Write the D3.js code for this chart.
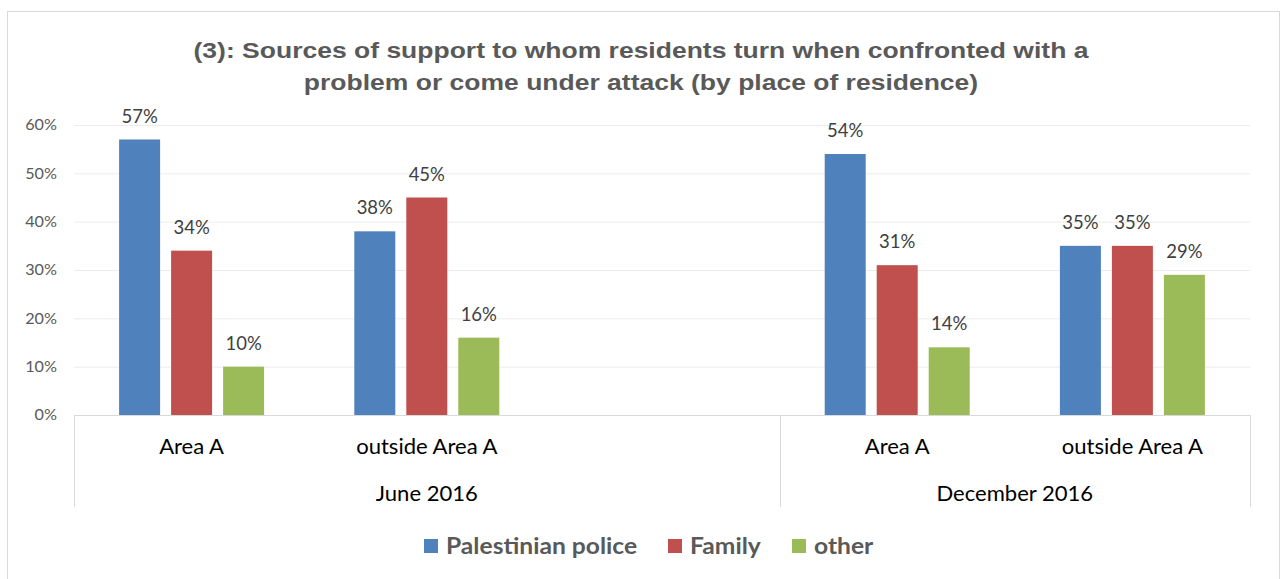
<!DOCTYPE html>
<html><head><meta charset="utf-8">
<script src="https://cdn.jsdelivr.net/npm/d3@7"></script>
<style>body{margin:0;background:#fff;} svg{display:block;}</style>
</head><body>
<svg id="c" width="1281" height="579"></svg>
<script>
const slots = ["J-A", "J-O", "J-gap", "D-A", "D-O"];
const slotLabels = ["Area A", "outside Area A", "", "Area A", "outside Area A"];
const periods = ["June 2016", "December 2016"];
const periodSlots = [["J-A", "J-O", "J-gap"], ["D-A", "D-O"]];
const seriesNames = ["Palestinian police", "Family", "other"];
const police = [57, 38, null, 54, 35];
const family = [34, 45, null, 31, 35];
const other  = [10, 16, null, 14, 29];
const yTicks = [0, 10, 20, 30, 40, 50, 60];
const titleLines = ["(3): Sources of support to whom residents turn when confronted with a", "problem or come under attack (by place of residence)"];
const colors = ["#4F81BD", "#C0504D", "#9BBB59"];
const seriesData = [police, family, other];

const svg = d3.select("#c");
svg.append("rect").attr("x", 7.5).attr("y", 11.5).attr("width", 1272).attr("height", 580)
  .attr("fill", "#fff").attr("stroke", "#d9d9d9");

const x0 = 74, x1 = 1250, yTop = 125, yBase = 415;
const x = d3.scaleBand().domain(slots).range([x0, x1]).paddingInner(0).paddingOuter(0);
const y = d3.scaleLinear().domain([0, 60]).range([yBase, yTop]);
const groupW = 145;
const inner = d3.scaleBand().domain(d3.range(3)).range([0, groupW]).paddingInner(0.2115).paddingOuter(0);

// helper for horizontally scaled text
function sText(g, cx, cy, sx) {
  return g.append("text").attr("transform", `translate(${cx},${cy}) scale(${sx},1)`);
}

// title
const tg = svg.append("g");
titleLines.forEach((t, i) => {
  sText(tg, 641, 58 + i * 32, 1.205).attr("text-anchor", "middle")
    .attr("font-family", "Liberation Sans, Arial, sans-serif").attr("font-weight", "bold")
    .attr("font-size", 22).attr("fill", "#595959").text(t);
});

// gridlines
svg.append("g").selectAll("line").data(yTicks.filter(t => t > 0)).join("line")
  .attr("x1", x0).attr("x2", x1).attr("y1", d => y(d) + 0.5).attr("y2", d => y(d) + 0.5)
  .attr("stroke", "#ececec").attr("stroke-width", 1);

// y axis labels
const yAxis = d3.axisLeft(y).tickValues(yTicks).tickFormat(d => d + "%").tickSize(0).tickPadding(0);
const ya = svg.append("g").attr("transform", `translate(57,0)`).call(yAxis);
ya.select(".domain").remove();
ya.selectAll(".tick text").attr("x", null).attr("transform", "scale(1.08,1)")
  .attr("font-family", "Lato, Carlito, sans-serif").attr("font-size", 15).attr("fill", "#595959");

// bars
seriesData.forEach((vals, s) => {
  const g = svg.append("g");
  const data = slots.map((k, i) => ({k, v: vals[i]})).filter(d => d.v != null);
  const bx = d => x(d.k) + (x.bandwidth() - groupW) / 2 + inner(s);
  g.selectAll("rect").data(data).join("rect")
    .attr("x", bx).attr("width", inner.bandwidth())
    .attr("y", d => y(d.v)).attr("height", d => yBase - y(d.v))
    .attr("fill", colors[s]);
  g.selectAll("text").data(data).join("text")
    .attr("x", d => bx(d) + inner.bandwidth() / 2)
    .attr("y", d => y(d.v) - 17).attr("text-anchor", "middle")
    .attr("font-family", "Lato, Carlito, sans-serif").attr("font-size", 18.5).attr("fill", "#404040")
    .text(d => d.v + "%");
});

// category axis
const ax = svg.append("g");
ax.append("line").attr("x1", x0).attr("x2", x1).attr("y1", yBase + 0.5).attr("y2", yBase + 0.5).attr("stroke", "#d9d9d9");
const seps = [x0, x(periodSlots[1][0]), x1];
ax.selectAll("line.sep").data(seps).join("line").attr("class", "sep")
  .attr("x1", d => Math.round(d) + 0.5).attr("x2", d => Math.round(d) + 0.5)
  .attr("y1", yBase).attr("y2", 507).attr("stroke", "#d9d9d9");
slots.forEach((d, i) => {
  if (!slotLabels[i]) return;
  sText(ax, x(d) + x.bandwidth() / 2, 454, 1.05).attr("text-anchor", "middle")
    .attr("font-family", "Lato, Carlito, sans-serif").attr("font-size", 21).attr("fill", "#000")
    .text(slotLabels[i]);
});
periods.forEach((p, i) => {
  const a = x(periodSlots[i][0]);
  const b = x(periodSlots[i][periodSlots[i].length - 1]) + x.bandwidth();
  sText(ax, (a + b) / 2, 501, 1.05).attr("text-anchor", "middle")
    .attr("font-family", "Lato, Carlito, sans-serif").attr("font-size", 21).attr("fill", "#000")
    .text(p);
});

// legend
const legX = [424, 668, 792];
const lg = svg.append("g");
seriesNames.forEach((n, i) => {
  lg.append("rect").attr("x", legX[i]).attr("y", 539).attr("width", 14).attr("height", 14).attr("fill", colors[i]);
  sText(lg, legX[i] + 22, 554, 1.12)
    .attr("font-family", "Lato, Carlito, sans-serif").attr("font-weight", "bold").attr("font-size", 22)
    .attr("fill", "#595959").text(n);
});
</script>
</body></html>
